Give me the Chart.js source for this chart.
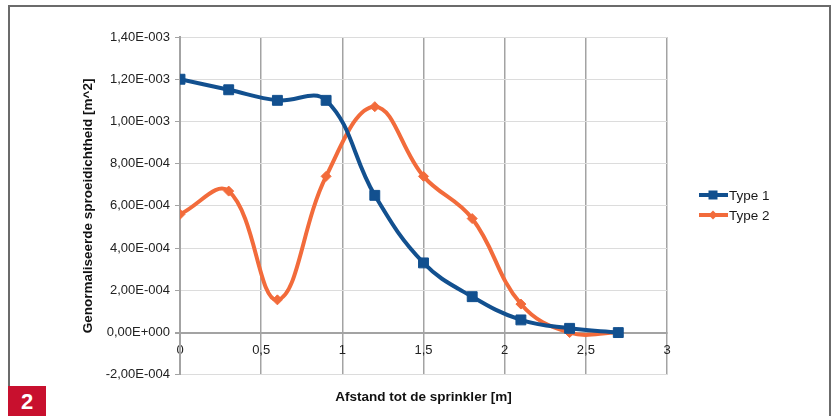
<!DOCTYPE html>
<html><head><meta charset="utf-8">
<script src="https://cdn.jsdelivr.net/npm/chart.js@4/dist/chart.umd.min.js"></script>
<style>
html,body{margin:0;padding:0;background:#fff;}
#wrap{position:relative;width:832px;height:416px;overflow:hidden;background:#fff;}
#c{position:absolute;left:0;top:0;}
#frame{position:absolute;left:8px;top:5px;width:823px;height:420px;border:2px solid #6b6b6b;border-bottom:none;box-sizing:border-box;pointer-events:none;}
#badge{position:absolute;left:8px;top:386px;width:38px;height:30px;background:#c8102e;color:#fff;font:bold 22px "Liberation Sans",Arial,sans-serif;text-align:center;line-height:32px;}
</style></head>
<body>
<div id="wrap"><canvas id="c" width="832" height="416"></canvas><div id="frame"></div><div id="badge">2</div></div>
<script>
// ---- data ----
const distances = [0, 0.3, 0.6, 0.9, 1.2, 1.5, 1.8, 2.1, 2.4, 2.7];
const type1 = [1.20e-3, 1.15e-3, 1.10e-3, 1.10e-3, 6.5e-4, 3.3e-4, 1.7e-4, 6.0e-5, 2.0e-5, 0];
const type2 = [5.6e-4, 6.7e-4, 1.55e-4, 7.4e-4, 1.07e-3, 7.4e-4, 5.4e-4, 1.35e-4, 0, 0];
const seriesNames = ['Type 1', 'Type 2'];
const xTitle = 'Afstand tot de sprinkler [m]';
const yTitle = 'Genormaliseerde sproeidichtheid [m^2]';

const blue = '#12508f';
const orange = '#f26b3b';
const FONT = '"Liberation Sans", Arial, sans-serif';

function sci(v) {
  if (Math.abs(v) < 1e-12) v = 0;
  const s = v.toExponential(2);
  const parts = s.split('e');
  const sign = parts[1][0] === '-' ? '-' : '+';
  const d = parts[1].replace(/[+-]/, '');
  return parts[0].replace('.', ',') + 'E' + sign + d.padStart(3, '0');
}
function pts(arr) { return distances.map((x, i) => ({x: x, y: arr[i]})); }

const legendPlugin = {
  id: 'customLegend',
  afterDraw(chart) {
    const ctx = chart.ctx;
    ctx.save();
    chart.data.datasets.forEach((ds, i) => {
      const y = 195 + i * 20;
      const x0 = 699, x1 = 728, cx = 713;
      ctx.strokeStyle = ds.borderColor;
      ctx.lineWidth = 4;
      ctx.beginPath(); ctx.moveTo(x0, y); ctx.lineTo(x1, y); ctx.stroke();
      ctx.fillStyle = ds.borderColor;
      if (ds.pointStyle === 'rect') {
        ctx.fillRect(cx - 4.5, y - 4.5, 9, 9);
      } else {
        ctx.beginPath();
        ctx.moveTo(cx, y - 4.5); ctx.lineTo(cx + 4.5, y); ctx.lineTo(cx, y + 4.5); ctx.lineTo(cx - 4.5, y);
        ctx.closePath(); ctx.fill();
      }
      ctx.fillStyle = '#1a1a1a';
      ctx.font = '13.5px ' + FONT;
      ctx.textBaseline = 'middle';
      ctx.textAlign = 'left';
      ctx.fillText(ds.label, 729, y + 1);
    });
    ctx.restore();
  }
};

new Chart(document.getElementById('c'), {
  type: 'line',
  data: {
    datasets: [
      {label: seriesNames[0], data: pts(type1), borderColor: blue, backgroundColor: blue,
       borderWidth: 4, pointStyle: 'rect', pointRadius: 7, pointBorderWidth: 1, pointBorderColor: blue, tension: 0.4},
      {label: seriesNames[1], data: pts(type2), borderColor: orange, backgroundColor: orange,
       borderWidth: 4, pointStyle: 'rectRot', pointRadius: 5, pointBorderWidth: 1, pointBorderColor: orange, tension: 0.4}
    ]
  },
  options: {
    responsive: false,
    animation: false,
    devicePixelRatio: 1,
    layout: {padding: {left: 76, top: 37, right: 165, bottom: 6}},
    plugins: {
      legend: {display: false},
      tooltip: {enabled: false},
      title: {display: true, position: 'bottom', fullSize: false, text: xTitle,
              color: '#111', font: {family: FONT, size: 13.5, weight: 'bold'}, padding: {top: 14, bottom: 5}}
    },
    scales: {
      x: {
        type: 'linear', position: {y: 0}, min: 0, max: 3,
        ticks: {stepSize: 0.5, color: '#222', font: {family: FONT, size: 13}, padding: 10,
                callback: v => String(Math.round(v * 10) / 10).replace('.', ',')},
        grid: {color: '#a3a3a3', lineWidth: 1.5, drawTicks: false},
        border: {display: true, color: '#a3a3a3', width: 2}
      },
      y: {
        type: 'linear', min: -2e-4, max: 1.4e-3,
        afterFit: s => { s.width = 104; },
        ticks: {stepSize: 2e-4, color: '#222', font: {family: FONT, size: 13}, padding: 5,
                callback: v => sci(v)},
        grid: {
          color: c => (c.tick && Math.abs(c.tick.value) < 1e-12) ? '#a3a3a3' : '#dcdcdc',
          lineWidth: c => (c.tick && Math.abs(c.tick.value) < 1e-12) ? 2 : 1,
          tickColor: '#a3a3a3', tickLength: 5
        },
        border: {display: true, color: '#a3a3a3', width: 2},
        title: {display: true, text: yTitle, color: '#111', font: {family: FONT, size: 13.5, weight: 'bold'}}
      }
    }
  },
  plugins: [legendPlugin]
});
</script>
</body></html>
